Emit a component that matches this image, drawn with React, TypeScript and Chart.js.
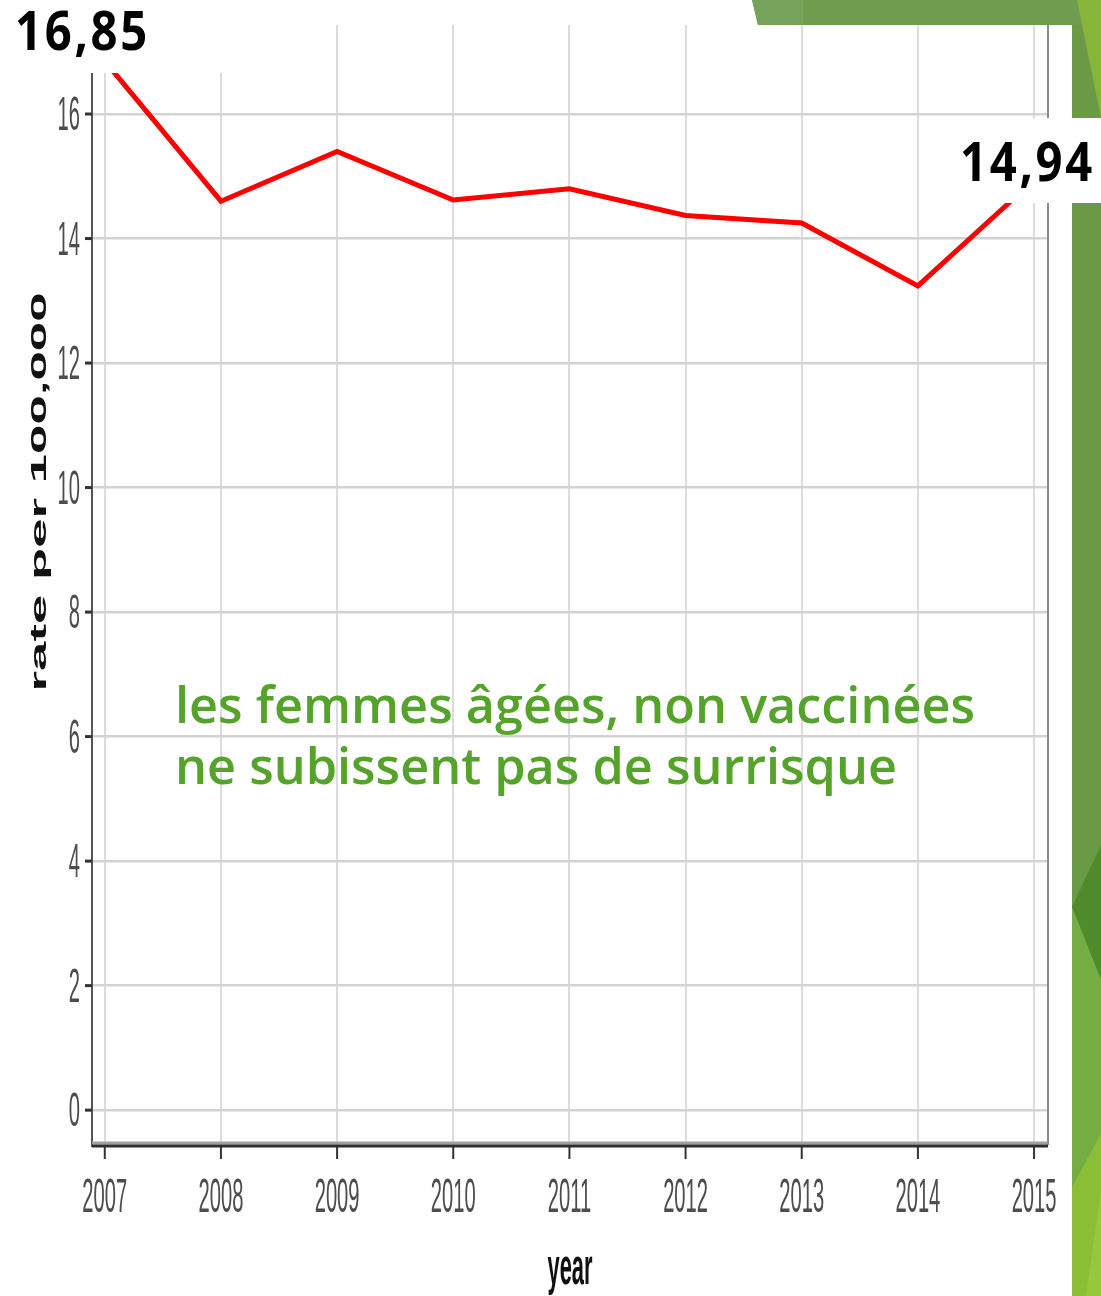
import React, { useEffect, useRef } from "react";
import { Chart, registerables } from "chart.js";

Chart.register(...registerables);

// ---- data ----
const years: number[] = [2007, 2008, 2009, 2010, 2011, 2012, 2013, 2014, 2015];
const rates: number[] = [16.85, 14.6, 15.4, 14.62, 14.8, 14.37, 14.25, 13.24, 14.94];
const yTickValues: number[] = [0, 2, 4, 6, 8, 10, 12, 14, 16];
const xTitle = "year";
const yTitle = "rate per 100,000";
const firstValueLabel = "16,85";
const lastValueLabel = "14,94";
const noteLines: string[] = ["les femmes âgées, non vaccinées", "ne subissent pas de surrisque"];

// axis ranges
const X_MIN = 2006.89;
const X_MAX = 2015.12;
const Y_MIN = -0.56;
const Y_MAX = 17.43;

const W = 1101;
const H = 1296;

function poly(ctx: CanvasRenderingContext2D, pts: number[][], color: string) {
  ctx.beginPath();
  ctx.moveTo(pts[0][0], pts[0][1]);
  for (let i = 1; i < pts.length; i++) ctx.lineTo(pts[i][0], pts[i][1]);
  ctx.closePath();
  ctx.fillStyle = color;
  ctx.fill();
}

function fitText(
  ctx: CanvasRenderingContext2D,
  text: string,
  x: number,
  baseline: number,
  width: number,
  font: string,
  color: string,
  spacing: string
) {
  ctx.save();
  ctx.font = font;
  (ctx as any).letterSpacing = spacing;
  const w = ctx.measureText(text).width;
  ctx.translate(x, baseline);
  ctx.scale(width / w, 1);
  ctx.fillStyle = color;
  ctx.textAlign = "left";
  ctx.textBaseline = "alphabetic";
  ctx.fillText(text, 0, 0);
  ctx.restore();
}

const overlayPlugin = {
  id: "overlay",
  afterDraw(chart: any) {
    const ctx: CanvasRenderingContext2D = chart.ctx;
    const { left, right, top, bottom } = chart.chartArea;
    const xs = chart.scales.x;
    const ys = chart.scales.y;
    const SQ = 0.42;

    ctx.save();
    // right border
    ctx.strokeStyle = "#8a8a8a";
    ctx.lineWidth = 2;
    ctx.beginPath();
    ctx.moveTo(right, top);
    ctx.lineTo(right, bottom);
    ctx.stroke();

    // left axis
    ctx.strokeStyle = "#555555";
    ctx.lineWidth = 2;
    ctx.beginPath();
    ctx.moveTo(left, top);
    ctx.lineTo(left, bottom + 2);
    ctx.stroke();

    // bottom axis (with soft shadow)
    ctx.strokeStyle = "#a0a0a0";
    ctx.lineWidth = 3;
    ctx.beginPath();
    ctx.moveTo(left, bottom - 2);
    ctx.lineTo(right, bottom - 2);
    ctx.stroke();
    ctx.strokeStyle = "#2e2e2e";
    ctx.lineWidth = 3;
    ctx.beginPath();
    ctx.moveTo(left, bottom + 1);
    ctx.lineTo(right, bottom + 1);
    ctx.stroke();

    // y ticks + labels
    ctx.strokeStyle = "#333333";
    ctx.fillStyle = "#4d4d4d";
    for (const v of yTickValues) {
      const py = ys.getPixelForValue(v);
      ctx.lineWidth = 3;
      ctx.beginPath();
      ctx.moveTo(left - 7, py);
      ctx.lineTo(left, py);
      ctx.stroke();
      ctx.save();
      ctx.font = '48px "Liberation Sans"';
      ctx.translate(left - 12, py + 3);
      ctx.scale(SQ, 1);
      ctx.textAlign = "right";
      ctx.textBaseline = "middle";
      ctx.fillText(String(v), 0, 0);
      ctx.restore();
    }

    // x ticks + labels
    for (const v of years) {
      const px = xs.getPixelForValue(v);
      ctx.lineWidth = 2;
      ctx.strokeStyle = "#333333";
      ctx.beginPath();
      ctx.moveTo(px, bottom + 2);
      ctx.lineTo(px, bottom + 14);
      ctx.stroke();
      ctx.save();
      ctx.font = '48px "Liberation Sans"';
      ctx.fillStyle = "#4d4d4d";
      ctx.translate(px, bottom + 54);
      ctx.scale(SQ, 1);
      ctx.textAlign = "center";
      ctx.textBaseline = "middle";
      ctx.fillText(String(v), 0, 0);
      ctx.restore();
    }

    // x title
    ctx.save();
    ctx.font = 'bold 52px "Liberation Sans"';
    ctx.fillStyle = "#111111";
    ctx.translate((left + right) / 2, 1284);
    ctx.scale(SQ, 1);
    ctx.textAlign = "center";
    ctx.textBaseline = "alphabetic";
    ctx.fillText(xTitle, 0, 0);
    ctx.restore();

    // y title
    ctx.save();
    ctx.font = 'bold 52px "Liberation Sans"';
    const tw = ctx.measureText(yTitle).width;
    ctx.fillStyle = "#111111";
    ctx.translate(46, 492);
    ctx.rotate(-Math.PI / 2);
    ctx.scale(399 / tw, SQ);
    ctx.textAlign = "center";
    ctx.textBaseline = "alphabetic";
    ctx.fillText(yTitle, 0, 0);
    ctx.restore();

    // ---- slide decorations ----
    ctx.fillStyle = "#6a9a46";
    ctx.fillRect(1072, 0, W - 1072, H);
    poly(ctx, [[752, 0], [W, 0], [W, 25], [758, 25]], "#6f9c4e");
    poly(ctx, [[752, 0], [803, 0], [803, 25], [758, 25]], "#76a35b");
    poly(ctx, [[1077, 0], [W, 0], [W, 118]], "#86b53a");
    poly(ctx, [[1072, 907], [W, 845], [W, 980]], "#4f8b2b");
    poly(ctx, [[1072, 907], [W, 980], [W, 1133], [1072, 1187]], "#74ae43");
    poly(ctx, [[1072, 1187], [W, 1133], [W, H], [1072, H]], "#8bbd35");
    poly(ctx, [[W, 1190], [W, H], [1086, H]], "#97c73c");

    // white label boxes
    ctx.fillStyle = "#ffffff";
    ctx.fillRect(0, 0, 280, 73);
    ctx.fillRect(940, 118, W - 940, 85);

    // value labels
    fitText(ctx, firstValueLabel, 15, 50, 135, 'bold 53px "Noto Sans"', "#000000", "3px");
    fitText(ctx, lastValueLabel, 960, 181, 135, 'bold 53px "Noto Sans"', "#000000", "3px");

    // green note
    ctx.save();
    ctx.font = '600 51px "Open Sans"';
    const w1 = ctx.measureText(noteLines[0]).width;
    const s = 800 / w1;
    ctx.fillStyle = "#55a32a";
    ctx.textAlign = "left";
    ctx.textBaseline = "alphabetic";
    noteLines.forEach((line, i) => {
      ctx.save();
      ctx.translate(175, 723 + i * 61);
      ctx.scale(s, 1);
      ctx.fillText(line, 0, 0);
      ctx.restore();
    });
    ctx.restore();

    ctx.restore();
  },
};

export default function App() {
  const ref = useRef<HTMLCanvasElement | null>(null);

  useEffect(() => {
    if (!ref.current) return;
    const chart = new Chart(ref.current, {
      type: "line",
      data: {
        datasets: [
          {
            data: years.map((x, i) => ({ x, y: rates[i] })),
            borderColor: "#ff0000",
            borderWidth: 5,
            pointRadius: 0,
            tension: 0,
            fill: false,
          },
        ],
      },
      options: {
        animation: false,
        responsive: false,
        maintainAspectRatio: false,
        devicePixelRatio: 1,
        layout: { padding: { left: 92, right: 53, top: 25, bottom: 151 } },
        plugins: { legend: { display: false }, tooltip: { enabled: false } },
        scales: {
          x: {
            type: "linear",
            min: X_MIN,
            max: X_MAX,
            afterBuildTicks: (s: any) => {
              s.ticks = years.map((v) => ({ value: v }));
            },
            afterFit: (s: any) => {
              s.height = 0;
            },
            ticks: { display: false },
            border: { display: false },
            grid: { color: "#dcdcdc", lineWidth: 2, drawTicks: false },
          },
          y: {
            type: "linear",
            min: Y_MIN,
            max: Y_MAX,
            afterBuildTicks: (s: any) => {
              s.ticks = yTickValues.map((v) => ({ value: v }));
            },
            afterFit: (s: any) => {
              s.width = 0;
            },
            ticks: { display: false },
            border: { display: false },
            grid: { color: "#d3d3d3", lineWidth: 2.5, drawTicks: false },
          },
        },
      },
      plugins: [overlayPlugin],
    });
    return () => chart.destroy();
  }, []);

  return (
    <div style={{ position: "absolute", left: 0, top: 0, width: W, height: H, background: "#ffffff" }}>
      <canvas ref={ref} width={W} height={H} style={{ width: W, height: H, display: "block" }} />
    </div>
  );
}
